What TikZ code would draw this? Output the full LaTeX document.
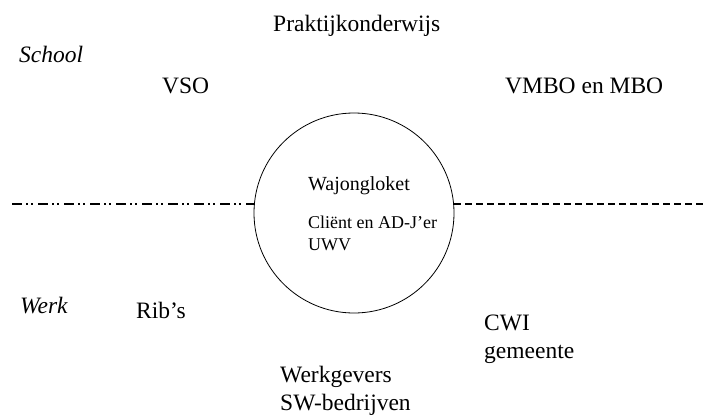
\documentclass[tikz,border=0pt]{standalone}
\usepackage{fontspec}
\setmainfont{Liberation Serif}
\usepackage{tikz}

\begin{document}
\begin{tikzpicture}[
    x=1pt, y=-1pt,
    item label/.style={font=\fontsize{23.5}{28}\selectfont, anchor=base west, inner sep=0pt},
    side label/.style={item label, font=\fontsize{23.5}{28}\selectfont\itshape},
    loket label/.style={item label, font=\fontsize{18}{22}\selectfont}
]

\tikzset{
    school line/.style={line width=2pt, dash pattern=on 10pt off 4pt on 2pt off 3pt on 2pt off 5pt},
    werk line/.style={line width=2pt, dash pattern=on 7pt off 4pt}
}

\useasboundingbox (0,0) rectangle (706,415);

% --- 1. Wajongloket ---
\node[circle, draw, line width=0.8pt, minimum size=200pt, inner sep=0pt] (loket) at (354,213) {};

\node[loket label, font=\fontsize{20}{22}\selectfont] (wajong) at (308,190) {Wajongloket};
\foreach \name/\x/\y/\txt in {
    client/308/228/Cliënt en AD-J’er,
    uwv/308/250/UWV
}{
    \node[loket label] (\name) at (\x,\y) {\txt};
}

% --- 2. School side ---
\node[side label] (school) at (19,62) {School};

\foreach \name/\x/\y/\txt in {
    praktijk/273/31/Praktijkonderwijs,
    vso/162/93/VSO,
    vmbo/505/93/VMBO en MBO
}{
    \node[item label] (\name) at (\x,\y) {\txt};
}

% --- 3. Werk side ---
\node[side label] (werk) at (20,313) {Werk};

\foreach \name/\x/\y/\txt in {
    ribs/136/318/Rib’s,
    cwi/484/330/CWI,
    gemeente/484/358/gemeente,
    werkgevers/280/382/Werkgevers,
    swbedrijven/280/410/SW-bedrijven
}{
    \node[item label] (\name) at (\x,\y) {\txt};
}

% --- 4. Border between school and werk ---
\coordinate (borderL) at (12,204);
\coordinate (borderR) at (705,204);

\draw[school line] (borderL) -- (borderL -| loket.175);
\draw[werk line] (borderR -| loket.5) -- (borderR);

\end{tikzpicture}
\end{document}
